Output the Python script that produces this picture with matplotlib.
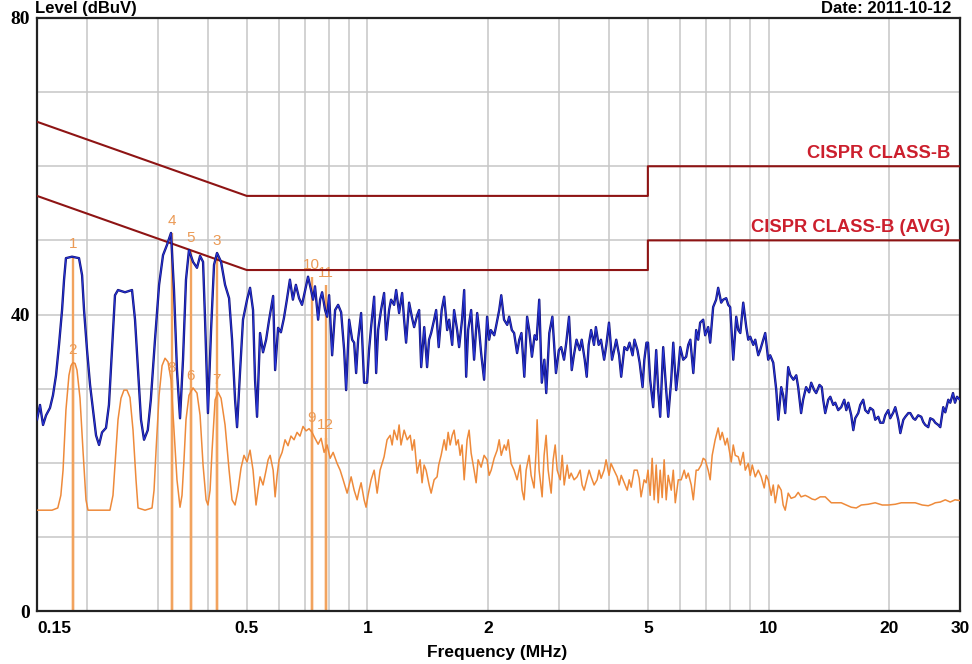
import matplotlib
matplotlib.use('Agg')
import matplotlib.pyplot as plt
from matplotlib.ticker import FixedLocator, NullLocator

# ---------------- data ----------------
PK_FREQ = [0.150, 0.1526, 0.1553, 0.158, 0.1616, 0.1644, 0.1673, 0.1702, 0.1732, 0.1752, 0.1771, 0.1834, 0.1909,
           0.1943, 0.1965, 0.1999, 0.2034, 0.2069, 0.2105, 0.2142, 0.2179, 0.2229, 0.2267, 0.2307, 0.2347, 0.2388,
           0.2486, 0.2588, 0.2633, 0.2679, 0.2725, 0.2773, 0.2833, 0.2883, 0.2953, 0.3023, 0.3092, 0.3164, 0.3237,
           0.3293, 0.335, 0.3409, 0.3468, 0.3528, 0.3589, 0.3673, 0.3758, 0.3825, 0.3891, 0.3936, 0.4002, 0.4074,
           0.4144, 0.4216, 0.4315, 0.4415, 0.4518, 0.4596, 0.4676, 0.4730, 0.4814, 0.4894, 0.5009, 0.5096, 0.5184,
           0.5244, 0.5305, 0.5397, 0.549, 0.5588, 0.5686, 0.5818, 0.5885, 0.5986, 0.6083, 0.6189, 0.6296, 0.6406,
           0.6517, 0.663, 0.6752, 0.6867, 0.6995, 0.7109, 0.7233, 0.7316, 0.7398, 0.7532, 0.7619, 0.7707, 0.7840,
           0.7931, 0.8023, 0.8163, 0.8304, 0.8449, 0.8596, 0.8746, 0.8846, 0.900, 0.9157, 0.9262, 0.9369, 0.9477,
           0.964, 0.9807, 0.9977, 1.009, 1.021, 1.039, 1.051, 1.063, 1.081, 1.100, 1.113, 1.132, 1.145, 1.165, 1.179,
           1.199, 1.220, 1.234, 1.248, 1.270, 1.292, 1.307, 1.330, 1.345, 1.361, 1.385, 1.408, 1.424, 1.441, 1.466,
           1.483, 1.505, 1.531, 1.553, 1.58, 1.598, 1.626, 1.644, 1.673, 1.692, 1.721, 1.742, 1.762, 1.782, 1.813,
           1.844, 1.877, 1.898, 1.92, 1.953, 1.987, 2.01, 2.03, 2.07, 2.09, 2.13, 2.155, 2.19, 2.23, 2.255, 2.29, 2.32,
           2.36, 2.39, 2.42, 2.46, 2.50, 2.53, 2.57, 2.61, 2.64, 2.68, 2.72, 2.76, 2.79, 2.84, 2.89, 2.92, 2.95, 3.00,
           3.04, 3.09, 3.13, 3.18, 3.23, 3.27, 3.32, 3.38, 3.42, 3.48, 3.52, 3.56, 3.61, 3.67, 3.71, 3.77, 3.82, 3.89,
           3.94, 4.00, 4.07, 4.12, 4.17, 4.24, 4.29, 4.37, 4.44, 4.50, 4.58, 4.63, 4.71, 4.77, 4.85, 4.90, 4.96, 5.004,
           5.066, 5.155, 5.245, 5.306, 5.366, 5.46, 5.555, 5.62, 5.718, 5.785, 5.882, 5.953, 6.02, 6.125, 6.23, 6.304,
           6.38, 6.49, 6.598, 6.674, 6.75, 6.868, 6.948, 7.068, 7.15, 7.273, 7.398, 7.486, 7.617, 7.705, 7.84, 7.931,
           8.02, 8.163, 8.304, 8.402, 8.50, 8.645, 8.796, 8.897, 9.0, 9.157, 9.262, 9.423, 9.529, 9.695, 9.807, 9.977,
           10.09, 10.27, 10.45, 10.57, 10.75, 10.87, 11.0, 11.19, 11.33, 11.53, 11.72, 11.85, 12.05, 12.19, 12.40,
           12.62, 12.77, 12.99, 13.14, 13.39, 13.57, 13.68, 13.84, 14.08, 14.25, 14.49, 14.66, 14.91, 15.17, 15.44,
           15.62, 15.8, 16.07, 16.26, 16.44, 16.73, 16.92, 17.21, 17.41, 17.71, 17.91, 18.22, 18.44, 18.77, 18.98,
           19.31, 19.53, 19.87, 20.1, 20.46, 20.69, 21.05, 21.3, 21.67, 21.92, 22.3, 22.55, 22.94, 23.2, 23.6, 24.02,
           24.29, 24.57, 25.0, 25.29, 25.73, 26.03, 26.48, 26.79, 27.25, 27.57, 28.05, 28.37, 28.82, 29.15, 29.49, 30.0]
PK_LEVEL = [25.8, 27.8, 25.1, 26.4, 27.4, 29.1, 31.8, 35.9, 40.6, 44.7, 47.6, 47.8, 47.6,
            45.3, 40.6, 35.2, 30.5, 27.1, 23.7, 22.4, 24.1, 24.7, 27.8, 35.2, 42.6, 43.3,
            43.0, 43.3, 39.3, 32.5, 25.8, 23.1, 24.4, 28.5, 36.6, 44.0, 48.0, 49.4, 51.0,
            43.3, 32.5, 26.0, 33.9, 44.7, 48.7, 47.1, 46.3, 47.9, 47.1, 39.3, 26.7, 37.9,
            46.7, 48.3, 47.1, 44.0, 42.2, 36.6, 28.5, 24.8, 32.5, 39.3, 42.0, 43.6, 40.6,
            31.2, 26.2, 37.5, 34.9, 36.6, 39.3, 42.5, 32.5, 38.2, 37.6, 39.5, 42.0, 44.7,
            42.0, 44.0, 42.2, 41.3, 43.3, 45.1, 43.3, 42.0, 43.8, 39.3, 42.0, 43.0, 40.6,
            39.7, 42.6, 34.5, 40.6, 41.3, 40.3, 35.2, 29.8, 39.3, 36.6, 36.2, 32.1, 36.6,
            40.2, 30.8, 30.8, 35.2, 38.3, 42.4, 32.1, 37.9, 40.6, 42.9, 36.6, 40.6, 42.0, 41.3, 43.3,
            40.2, 42.9, 39.3, 36.2, 41.6, 39.5, 38.3, 39.9, 40.6, 32.9, 38.3, 32.9, 36.6, 37.5, 39.3,
            40.6, 35.6, 40.6, 42.4, 37.9, 39.3, 35.9, 40.6, 37.9, 35.6, 39.3, 43.3, 31.6, 37.9, 40.6,
            33.9, 40.2, 37.9, 34.8, 31.2, 39.7, 36.6, 37.9, 37.2, 38.3, 40.6, 42.6, 39.3, 38.6, 39.7, 37.9, 37.5,
            34.8, 36.6, 37.5, 31.6, 39.7, 37.9, 34.3, 37.2, 36.6, 42.0, 30.8, 33.9, 29.4, 37.5, 39.7, 35.9, 32.1, 35.2,
            35.6, 33.9, 36.2, 39.7, 32.5, 34.5, 36.6, 35.2, 36.6, 33.9, 31.6, 35.9, 37.9, 35.9, 38.3, 35.9, 36.6, 33.9,
            35.9, 38.9, 33.9, 35.2, 36.6, 34.5, 31.6, 35.6, 35.2, 36.2, 34.5, 36.6, 35.2, 33.5, 30.2, 33.9, 36.2, 36.2,
            31.2, 27.5, 35.2, 29.8, 26.2, 35.6, 29.8, 26.2, 31.2, 36.2, 29.8, 32.5, 35.6, 33.9, 34.3, 35.9,
            36.6, 32.1, 37.9, 36.6, 38.9, 39.3, 37.2, 38.3, 36.2, 41.0, 42.0, 43.6, 41.6, 42.0, 42.2, 41.3,
            41.0, 33.9, 39.7, 37.9, 37.5, 41.6, 38.3, 36.6, 37.0, 35.9, 36.6, 34.5, 35.2, 36.6, 37.5, 33.9,
            34.5, 33.5, 29.8, 25.8, 30.2, 29.1, 26.7, 32.9, 31.8, 31.2, 31.8, 30.2, 26.7, 28.5, 30.2,
            29.5, 30.8, 29.8, 29.4, 30.5, 30.2, 28.5, 26.7, 28.5, 28.9, 27.8, 28.1, 27.1, 27.5, 28.5,
            27.1, 28.1, 26.4, 24.4, 26.0, 26.7, 27.8, 28.5, 27.1, 26.7, 27.4, 27.1, 25.8, 26.2, 25.4,
            25.4, 26.4, 27.1, 26.0, 26.8, 27.5, 25.8, 24.0, 25.8, 26.2, 26.7, 26.7, 26.0, 25.8, 26.4, 26.2,
            25.5, 25.1, 24.8, 26.0, 25.8, 25.4, 25.1, 24.8, 27.5, 26.8, 28.5, 28.1, 29.4, 28.1, 28.9, 28.5]

AV_FREQ = [0.150, 0.157, 0.1635, 0.169, 0.172, 0.1742, 0.1771, 0.1802, 0.1823, 0.1844, 0.1866, 0.1887, 0.192,
           0.1953, 0.1987, 0.201, 0.2093, 0.219, 0.228, 0.232, 0.2347, 0.2388, 0.2429, 0.2471, 0.2514, 0.2558,
           0.2603, 0.2648, 0.2679, 0.2789, 0.2903, 0.2937, 0.2971, 0.3023, 0.3075, 0.3128, 0.3182, 0.3237, 0.3293,
           0.335, 0.3409, 0.3448, 0.3488, 0.3528, 0.3589, 0.3673, 0.3758, 0.3825, 0.3891, 0.3959, 0.4002, 0.4051,
           0.4098, 0.4170, 0.4242, 0.4315, 0.4415, 0.4518, 0.4596, 0.4676, 0.4756, 0.4839, 0.4922, 0.5009, 0.5096,
           0.5184, 0.5274, 0.5335, 0.5397, 0.549, 0.5588, 0.5653, 0.5719, 0.5818, 0.5885, 0.5953, 0.602, 0.6125,
           0.6230, 0.6337, 0.6445, 0.656, 0.6674, 0.6788, 0.6907, 0.7028, 0.715, 0.7273, 0.7398, 0.7532, 0.7663,
           0.7796, 0.7931, 0.807, 0.821, 0.840, 0.8547, 0.8696, 0.8897, 0.900, 0.9104, 0.9262, 0.9423, 0.9532,
           0.964, 0.9807, 0.992, 1.003, 1.021, 1.039, 1.057, 1.075, 1.100, 1.119, 1.139, 1.152, 1.165, 1.186, 1.199,
           1.212, 1.234, 1.256, 1.278, 1.293, 1.308, 1.330, 1.3526, 1.368, 1.384, 1.400, 1.4245, 1.441, 1.466,
           1.491, 1.505, 1.526, 1.553, 1.5705, 1.589, 1.607, 1.626, 1.644, 1.6635, 1.683, 1.702, 1.721, 1.742,
           1.7715, 1.792, 1.813, 1.844, 1.8657, 1.887, 1.920, 1.953, 1.987, 2.010, 2.034, 2.069, 2.105, 2.130,
           2.155, 2.193, 2.218, 2.244, 2.280, 2.320, 2.360, 2.402, 2.429, 2.457, 2.486, 2.529, 2.558, 2.602, 2.633,
           2.648, 2.678, 2.725, 2.756, 2.788, 2.821, 2.870, 2.903, 2.937, 2.971, 3.023, 3.058, 3.093, 3.146, 3.182,
           3.219, 3.274, 3.331, 3.389, 3.428, 3.468, 3.528, 3.569, 3.61, 3.673, 3.736, 3.779, 3.823, 3.889, 3.934,
           4.001, 4.047, 4.117, 4.193, 4.242, 4.291, 4.365, 4.441, 4.492, 4.544, 4.623, 4.703, 4.757, 4.808, 4.894,
           4.951, 5.004, 5.066, 5.125, 5.184, 5.245, 5.306, 5.366, 5.428, 5.49, 5.555, 5.62, 5.718, 5.785, 5.852,
           5.953, 6.055, 6.16, 6.23, 6.304, 6.414, 6.49, 6.598, 6.674, 6.789, 6.868, 6.948, 7.068, 7.15, 7.233,
           7.358, 7.486, 7.573, 7.661, 7.796, 7.886, 7.977, 8.07, 8.163, 8.258, 8.402, 8.50, 8.645, 8.745, 8.897,
           9.0, 9.104, 9.262, 9.423, 9.584, 9.75, 9.863, 9.977, 10.15, 10.27, 10.39, 10.57, 10.75, 10.87, 11.0,
           11.19, 11.38, 11.64, 11.85, 12.05, 12.34, 12.56, 12.84, 13.06, 13.45, 13.84, 14.33, 14.74, 15.17, 15.62,
           16.07, 16.54, 17.02, 17.71, 18.44, 19.2, 19.87, 20.69, 21.42, 22.3, 23.2, 24.15, 25.0, 25.58, 26.03,
           26.79, 27.57, 28.37, 29.15, 30.0]
AV_LEVEL = [13.6, 13.6, 13.6, 13.9, 15.6, 19.0, 27.1, 31.8, 33.1, 33.5, 33.4, 32.5, 28.7,
            21.7, 15.0, 13.6, 13.6, 13.6, 13.6, 15.6, 19.7, 25.8, 28.7, 29.8, 29.8, 28.8,
            24.4, 17.7, 13.9, 13.6, 13.9, 16.3, 21.7, 29.1, 33.1, 34.1, 33.6, 31.2, 24.4,
            17.7, 14.0, 15.6, 20.4, 25.8, 29.1, 30.1, 29.4, 26.4, 19.7, 15.0, 14.3, 16.3,
            21.7, 28.5, 29.5, 28.7, 25.1, 19.0, 15.0, 14.3, 16.3, 19.3, 21.0, 20.1, 21.7,
            19.0, 14.3, 16.3, 18.1, 17.0, 19.0, 20.4, 21.0, 19.0, 15.4, 18.3, 20.4, 21.4,
            23.1, 22.3, 23.6, 23.1, 24.1, 23.6, 24.9, 24.3, 24.6, 24.1, 23.3, 22.5, 23.3,
            21.4, 22.4, 20.6, 21.4, 19.9, 19.0, 17.7, 15.9, 17.0, 18.1, 16.3, 15.0, 16.3,
            17.3, 15.0, 14.0, 15.6, 17.7, 19.0, 15.9, 19.0, 20.8, 23.1, 23.7, 22.4, 24.4, 23.1, 25.1,
            22.4, 24.4, 23.1, 23.7, 21.7, 23.1, 18.6, 20.4, 17.3, 19.7, 19.0, 17.0, 15.9, 17.7,
            18.1, 19.7, 21.0, 23.1, 21.7, 24.1, 22.4, 23.7, 24.4, 22.4, 23.1, 21.0, 22.4, 17.7,
            23.1, 24.4, 21.3, 19.0, 17.3, 20.4, 19.4, 21.0, 20.4, 18.3, 19.0, 20.6, 21.7, 23.1,
            21.0, 22.4, 21.7, 23.1, 19.9, 19.0, 17.7, 19.7, 16.3, 15.0, 19.0, 21.0, 18.3, 16.6, 21.7,
            25.8, 19.0, 15.4, 21.0, 23.7, 19.0, 15.9, 20.4, 22.4, 19.0, 17.7, 21.0, 17.0, 19.7, 17.9,
            18.6, 17.7, 18.1, 19.0, 17.0, 16.3, 17.9, 19.0, 18.1, 17.0, 17.7, 19.0, 17.9, 19.0, 20.4,
            18.3, 19.9, 19.0, 18.1, 17.0, 18.3, 17.3, 16.3, 17.7, 16.7, 19.0, 19.0, 17.9, 15.4, 17.7,
            17.3, 19.0, 15.6, 20.6, 15.0, 19.7, 14.6, 19.0, 15.3, 20.4, 15.0, 18.3, 16.3, 19.0, 14.6,
            17.7, 17.7, 19.0, 17.9, 18.6, 17.0, 15.0, 19.0, 19.0, 19.7, 20.6, 20.4, 19.0, 17.7, 21.0,
            23.1, 24.7, 23.1, 24.1, 22.4, 23.3, 21.7, 20.1, 22.4, 21.0, 20.8, 19.7, 21.4, 19.0, 19.9,
            18.3, 19.7, 18.1, 19.0, 18.1, 16.6, 18.3, 17.7, 15.6, 17.0, 14.6, 17.0, 16.3, 14.3, 13.6,
            15.9, 15.2, 15.4, 16.0, 15.4, 15.6, 15.4, 15.1, 15.0, 15.4, 15.4, 14.6, 14.6, 14.6, 14.3,
            14.0, 13.9, 14.3, 14.4, 14.6, 14.3, 14.3, 14.4, 14.6, 14.6, 14.6, 14.3, 14.2, 14.4, 14.6,
            14.7, 15.0, 14.7, 15.0, 14.9]

LIMIT_FREQ = [0.15, 0.5, 5.0, 5.0, 30.0]
LIMIT_QP = [66, 56, 56, 60, 60]
LIMIT_AVG = [56, 46, 46, 50, 50]
LIMIT_NAMES = ['CISPR CLASS-B', 'CISPR CLASS-B (AVG)']

MARKER_FREQ = [0.1844, 0.1844, 0.3251, 0.3251, 0.3628, 0.3628, 0.4211, 0.4211, 0.7257, 0.7257, 0.7875, 0.7875]
MARKER_LEVEL = [47.8, 33.5, 51.0, 31.2, 48.7, 30.1, 48.3, 29.5, 45.0, 24.4, 44.0, 23.4]
MARKER_LABEL = ['1', '2', '4', '8', '5', '6', '3', '7', '10', '9', '11', '12']

X_TICKS = [0.15, 0.5, 1, 2, 5, 10, 20, 30]
X_TICK_LABELS = ['0.15', '0.5', '1', '2', '5', '10', '20', '30']
Y_TICKS = [0, 40, 80]
V_GRID = [0.2, 0.3, 0.4, 0.5, 0.6, 0.7, 0.8, 0.9, 1, 2, 3, 4, 5, 6, 7, 8, 9, 10, 20]
H_GRID = [10, 20, 30, 40, 50, 60, 70]

# ---------------- figure ----------------
W, H = 972, 664
fig = plt.figure(figsize=(W / 100, H / 100), dpi=100)
fig.patch.set_facecolor('white')
ax = fig.add_axes([37 / W, 1 - 611 / H, (960 - 37) / W, (611 - 18) / H])
ax.set_xscale('log')
ax.set_xlim(0.15, 30)
ax.set_ylim(0, 80)

grid_c = '#c6c6c6'
for f in V_GRID:
    ax.axvline(f, color=grid_c, lw=1.1, zorder=0)
for y in H_GRID:
    ax.axhline(y, color=grid_c, lw=1.1, zorder=0)

# limit lines
lim_c = '#8e1414'
ax.plot(LIMIT_FREQ, LIMIT_QP, color=lim_c, lw=1.5, zorder=3)
ax.plot(LIMIT_FREQ, LIMIT_AVG, color=lim_c, lw=1.5, zorder=3)
ax.text(28.4, LIMIT_QP[-1] + 0.6, LIMIT_NAMES[0], color='#cc1f2d', fontsize=13.2, fontweight='bold',
        family='Liberation Sans', ha='right', va='bottom', zorder=6)
ax.text(28.4, LIMIT_AVG[-1] + 0.6, LIMIT_NAMES[1], color='#cc1f2d', fontsize=13.2, fontweight='bold',
        family='Liberation Sans', ha='right', va='bottom', zorder=6)

# marker lines
mk_c = '#f2a35e'
ax.vlines(MARKER_FREQ, 0, MARKER_LEVEL, color=mk_c, lw=1.7, zorder=1)
for f, lv, lb in zip(MARKER_FREQ, MARKER_LEVEL, MARKER_LABEL):
    ax.text(f, lv + 0.7, lb, color='#eb9a55', fontsize=11, ha='center', va='bottom',
            family='Liberation Sans', zorder=2)

# traces
ax.plot(AV_FREQ, AV_LEVEL, color='#ee8a3a', lw=1.1, zorder=4)
ax.plot(PK_FREQ, PK_LEVEL, color='#12127a', lw=1.7, zorder=5)
ax.plot(PK_FREQ, PK_LEVEL, color='#2a3ae6', lw=0.6, zorder=5)

# axes styling
for s in ax.spines.values():
    s.set_color('#222222')
    s.set_linewidth(1.6)
ax.xaxis.set_major_locator(FixedLocator(X_TICKS))
ax.xaxis.set_minor_locator(NullLocator())
ax.set_xticklabels(X_TICK_LABELS)
ax.yaxis.set_major_locator(FixedLocator(Y_TICKS))
ax.set_yticklabels([str(v) for v in Y_TICKS])
ax.tick_params(axis='both', length=0)
ax.tick_params(axis='x', pad=7)
ax.tick_params(axis='y', pad=5)
for lbl in ax.get_xticklabels():
    lbl.set_fontfamily('Liberation Sans')
    lbl.set_fontweight('bold')
    lbl.set_fontsize(12.5)
ax.get_xticklabels()[0].set_horizontalalignment('left')
for lbl in ax.get_yticklabels():
    lbl.set_fontfamily('Liberation Serif')
    lbl.set_fontweight('bold')
    lbl.set_fontsize(14)

fig.text(497 / W, 1 - 652 / H, 'Frequency (MHz)', ha='center', va='center', fontsize=12.5,
         fontweight='bold', family='Liberation Sans')
fig.text(35 / W, 1 - 13 / H, 'Level (dBuV)', ha='left', va='baseline', fontsize=12,
         fontweight='bold', family='Liberation Sans')
fig.text(951 / W, 1 - 13 / H, 'Date: 2011-10-12', ha='right', va='baseline', fontsize=12,
         fontweight='bold', family='Liberation Sans')

fig.savefig('out.png', dpi=100, facecolor='white')
